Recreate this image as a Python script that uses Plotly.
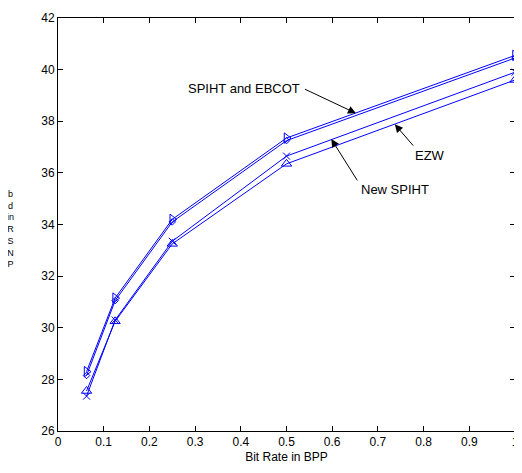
import plotly.graph_objects as go

# bit rates (bpp) and PSNR values
bpp = [0.0625, 0.125, 0.25, 0.5, 1.0]
spiht = [28.3, 31.15, 34.2, 37.35, 40.55]
ebcot = [28.15, 31.05, 34.1, 37.25, 40.45]
new_spiht = [27.35, 30.3, 33.35, 36.65, 39.9]
ezw = [27.55, 30.25, 33.25, 36.35, 39.6]

x_ticks = [0, 0.1, 0.2, 0.3, 0.4, 0.5, 0.6, 0.7, 0.8, 0.9, 1]
y_ticks = [26, 28, 30, 32, 34, 36, 38, 40, 42]

blue = "#0000ff"
font = dict(family="Liberation Sans, Arial", size=12, color="black")

fig = go.Figure()

series = [
    ("SPIHT", spiht, "triangle-right-open", 9),
    ("EBCOT", ebcot, "diamond-open", 5),
    ("New SPIHT", new_spiht, "x-thin-open", 7),
    ("EZW", ezw, "triangle-up-open", 9),
]
for name, vals, sym, sz in series:
    fig.add_trace(go.Scatter(
        x=bpp, y=vals, name=name, mode="lines+markers",
        line=dict(color=blue, width=1),
        marker=dict(symbol=sym, size=sz, color=blue, line=dict(color=blue, width=1)),
        showlegend=False, cliponaxis=False,
    ))

# labels with arrows (matlab style)
labels = [
    ("SPIHT and EBCOT", 0.533, 39.27, "right"),
    ("EZW", 0.813, 36.69, "center"),
    ("New SPIHT", 0.737, 35.35, "center"),
]
for txt, lx, ly, anchor in labels:
    fig.add_annotation(x=lx, y=ly, text=txt, showarrow=False, xanchor=anchor,
                       yanchor="middle", font=dict(family=font["family"], size=13, color="black"))

arrows = [
    # tip x, tip y, tail x, tail y
    (0.652, 38.31, 0.537, 39.27),
    (0.598, 37.31, 0.657, 35.65),
    (0.737, 37.88, 0.780, 37.0),
]
for tx, ty, sx, sy in arrows:
    fig.add_annotation(x=tx, y=ty, ax=sx, ay=sy, axref="x", ayref="y", text="",
                       showarrow=True, arrowhead=2, arrowsize=1.6, arrowwidth=1,
                       arrowcolor="black")

# y label drawn as stacked glyphs like the original
fig.add_annotation(text="b<br>d<br>in<br>R<br>S<br>N<br>P", xref="paper", yref="paper",
                   x=-0.104, y=0.488, showarrow=False, xanchor="center", yanchor="middle",
                   font=dict(family=font["family"], size=9, color="black"))

fig.update_xaxes(range=[0, 1], tickvals=x_ticks, ticktext=[f"{v:g}" for v in x_ticks],
                 ticks="inside", ticklen=5, tickcolor="black", showline=True, linecolor="black",
                 mirror="ticks", showgrid=False, zeroline=False,
                 title=dict(text="Bit Rate in BPP", font=font, standoff=4))
fig.update_yaxes(range=[26, 42], tickvals=y_ticks,
                 ticks="inside", ticklen=5, tickcolor="black", showline=True, linecolor="black",
                 mirror="ticks", showgrid=False, zeroline=False)

# page body has an 8px margin, so the figure is sized to fit the window
fig.update_layout(
    width=514, height=465,
    margin=dict(l=50, r=3, t=7, b=42),
    plot_bgcolor="white", paper_bgcolor="white",
    font=font,
)

fig.write_html("out.html")
